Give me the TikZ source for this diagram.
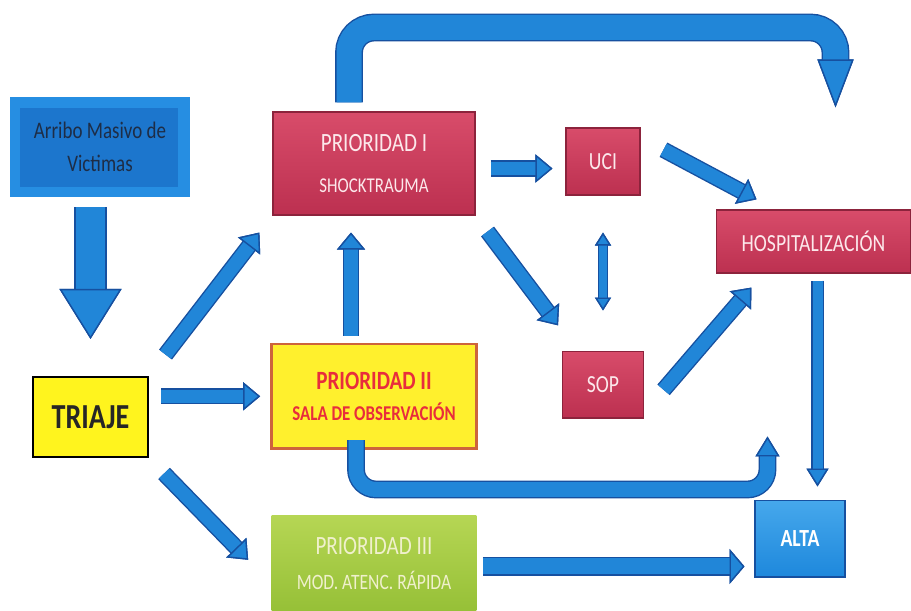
\documentclass[tikz,border=0pt]{standalone}
\usepackage{fontspec}
\setmainfont{Carlito}[FakeStretch=0.8]
\usetikzlibrary{positioning,calc,arrows.meta}
\definecolor{flowblue}{RGB}{33,134,216}
\definecolor{edgeblue}{RGB}{22,80,160}
\definecolor{crimsontop}{RGB}{216,76,106}
\definecolor{crimsonbot}{RGB}{188,48,80}
\definecolor{crimsonedge}{RGB}{140,35,60}
\definecolor{rosewhite}{RGB}{252,232,235}
\definecolor{arriboout}{RGB}{38,142,226}
\definecolor{arriboin}{RGB}{28,118,205}
\definecolor{arribotext}{RGB}{30,45,70}
\definecolor{triyellow}{RGB}{255,244,30}
\definecolor{obsyellow}{RGB}{255,240,45}
\definecolor{obsedge}{RGB}{205,100,60}
\definecolor{obstext}{RGB}{232,45,60}
\definecolor{rapidtop}{RGB}{182,214,84}
\definecolor{rapidbot}{RGB}{150,192,55}
\definecolor{rapidtext}{RGB}{240,240,205}
\definecolor{altatop}{RGB}{70,168,236}
\definecolor{altabot}{RGB}{30,136,220}

\begin{document}
\begin{tikzpicture}[
    x=0.02cm, y=-0.02cm,
    box/.style={align=center, inner sep=2pt},
    redbox/.style={box, draw=crimsonedge, line width=0.6pt, top color=crimsontop, bottom color=crimsonbot, text=rosewhite},
    flow/.style n args={3}{draw=flowblue, line width=#1, >={Triangle[length=#2, width=#3, line width=0.8pt, color=edgeblue, fill=flowblue]}, preaction={draw=edgeblue, line width=#1+1.6pt}},
    midflow/.style={flow={0.27cm}{0.34cm}{0.56cm}}
]
\useasboundingbox (0,0) rectangle (911,610);

% Arrival and triage
\node[box, minimum width=3.6cm, minimum height=2cm, fill=arriboout, text=arribotext,
    path picture={\fill[arriboin] ([shift={(0.2cm,-0.22cm)}]path picture bounding box.north west) rectangle ([shift={(-0.24cm,0.2cm)}]path picture bounding box.south east);},
    font=\fontsize{13.5}{17}\selectfont] (arribo) at (100,147) {Arribo Masivo de\\[2pt]Victimas};
\node[box, draw=black, line width=1.2pt, fill=triyellow, minimum width=2.3cm, minimum height=1.6cm, font=\fontsize{20}{24}\selectfont\bfseries, text=black!85] (triaje) at (90.5,417) {TRIAJE};

% Priorities
\node[redbox, minimum width=4.04cm, minimum height=2.06cm, font=\fontsize{15}{18}\selectfont] (p1) at (374,163.5) {PRIORIDAD I\\[5pt]{\fontsize{12}{14}\selectfont SHOCKTRAUMA}};
\node[box, draw=obsedge, line width=1.5pt, fill=obsyellow, text=obstext, minimum width=4.1cm, minimum height=2.1cm, font=\fontsize{15}{18}\selectfont\bfseries, below=2.54cm of p1] (p2) {PRIORIDAD II\\{\fontsize{12}{14}\selectfont SALA DE OBSERVACIÓN}};
\node[box, top color=rapidtop, bottom color=rapidbot, text=rapidtext, minimum width=4.1cm, minimum height=1.92cm, font=\fontsize{15}{18}\selectfont, below=1.3cm of p2] (p3) {PRIORIDAD III\\[2pt]{\fontsize{12.5}{15}\selectfont MOD. ATENC. RÁPIDA}};

% Destinations
\node[redbox, minimum width=1.48cm, minimum height=1.34cm, font=\fontsize{14}{16}\selectfont] (uci) at (603,161.5) {UCI};
\node[redbox, minimum width=1.62cm, minimum height=1.34cm, font=\fontsize{14}{16}\selectfont, below=3.1cm of uci] (sop) {SOP};
\node[redbox, minimum width=3.9cm, minimum height=1.26cm, font=\fontsize{14}{16}\selectfont] (hosp) at (813.5,241.5) {HOSPITALIZACIÓN};
\node[box, draw=edgeblue, line width=0.6pt, top color=altatop, bottom color=altabot, text=white, minimum width=1.8cm, minimum height=1.54cm, font=\fontsize{14}{16}\selectfont\bfseries] (alta) at (800,538.5) {ALTA};

% Arrows
\draw[flow={0.6cm}{1cm}{1.24cm}, ->, shorten <=0.2cm, shorten >=0.74cm] (arribo.south -| triaje.north) -- (triaje.north);
\draw[midflow, ->, shorten <=0.54cm, shorten >=0.43cm] (triaje.north east) -- (p1.south west);
\draw[midflow, ->, shorten <=0.24cm, shorten >=0.2cm] (triaje.east |- p2.west) -- (p2.west);
\draw[midflow, ->, shorten <=0.43cm, shorten >=0.66cm] (triaje.south east) -- ($(p3.west)+(0,20)$);
\draw[midflow, ->, shorten <=0.14cm, shorten >=0.34cm] ($(p2.north)+(-23,0)$) -- ($(p1.south)+(-23,0)$);
\draw[midflow, ->, shorten <=0.3cm, shorten >=0.26cm] ($(p1.east)+(0,5)$) -- ($(p1.east -| uci.west)+(0,5)$);
\draw[midflow, ->, shorten <=0.4cm, shorten >=0.63cm] (p1.south east) -- ($(sop.north west)+(15,0)$);
\draw[flow={0.16cm}{0.26cm}{0.32cm}, <->, shorten <=0.74cm, shorten >=0.8cm] (uci.south) -- (sop.north);
\draw[midflow, ->, shorten <=0.52cm, shorten >=0.43cm] ($(uci.east)+(0,-24)$) -- ($(hosp.north west)+(60,0)$);
\draw[midflow, ->, shorten <=0.6cm, shorten >=0.37cm] ($(sop.south east)+(0,-6)$) -- ($(hosp.south west)+(48,0)$);
\draw[flow={0.2cm}{0.36cm}{0.44cm}, ->, shorten <=0.14cm, shorten >=0.26cm] ($(hosp.south)+(4,0)$) -- ($(hosp.south |- alta.north)+(4,0)$);
\draw[flow={0.32cm}{0.3cm}{0.7cm}, ->, shorten <=0.12cm, shorten >=0.2cm] ($(p3.east)+(0,3)$) -- ($(p3.east -| alta.west)+(0,3)$);

% Long bent arrows
\draw[flow={0.3cm}{0.4cm}{0.48cm}, ->, rounded corners=0.4cm] ($(p2.south)+(-18,-10)$) |- ($(alta.north west)+(13,-10)$) -- ($(alta.north west)+(13,-63)$);
\draw[flow={0.5cm}{0.96cm}{0.72cm}, ->, rounded corners=0.5cm] ($(p1.north)+(-25,-9)$) |- ($(hosp.north)+(22,-182)$) -- ($(hosp.north)+(22,-102)$);

\end{tikzpicture}
\end{document}
